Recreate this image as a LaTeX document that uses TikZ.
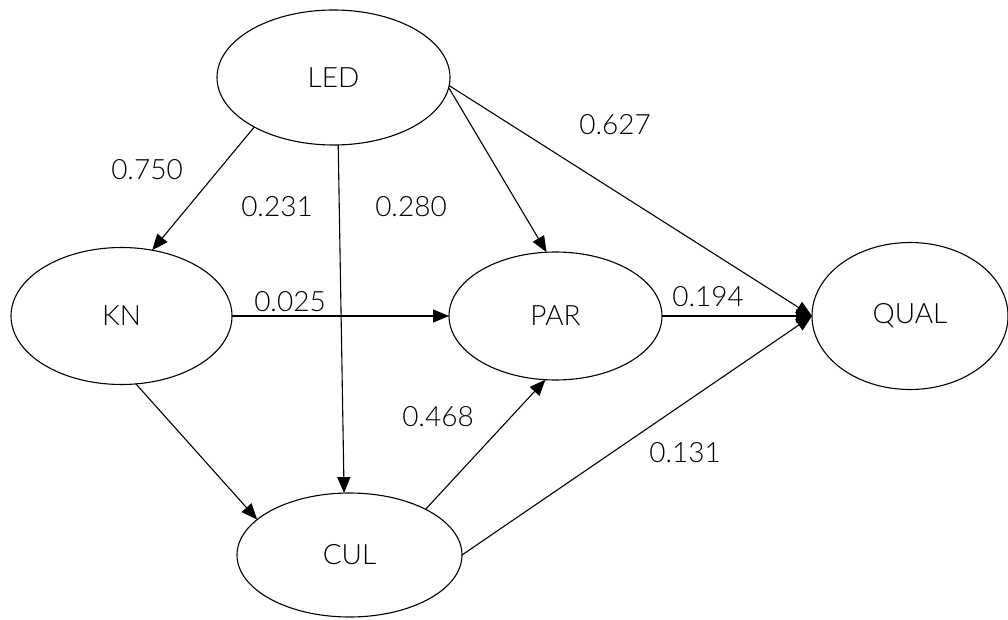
\documentclass[tikz,border=0pt]{standalone}
\usepackage{fontspec}
\setmainfont{Lato Light}
\usetikzlibrary{arrows.meta,shapes.geometric}

\begin{document}
\begin{tikzpicture}[x=1pt, y=-1pt, line width=1.1pt,
    every node/.style={font=\fontsize{28}{32}\selectfont},
    latent/.style={ellipse, draw, inner sep=0pt, outer sep=0pt},
    path/.style={-{Triangle[length=16pt,width=13pt]}},
    coef/.style={inner sep=0pt}]
    \useasboundingbox (0,0) rectangle (1008,620);

    % latent variables
    \node[latent, minimum width=233pt, minimum height=135pt] (LED)  at (333.5,77.5) {LED};
    \node[latent, minimum width=221pt, minimum height=137pt] (KN)   at (121.5,316)  {KN};
    \node[latent, minimum width=213pt, minimum height=128pt] (PAR)  at (555.5,316)  {PAR};
    \node[latent, minimum width=196pt, minimum height=147pt] (QUAL) at (910,316)    {QUAL};
    \node[latent, minimum width=225pt, minimum height=124pt] (CUL)  at (349.5,555)  {CUL};

    % structural paths
    \draw[path] (LED.212) -- (KN.65);
    \draw[path] (LED.274) -- (CUL.95);
    \draw[path] (LED.355) -- (PAR.98);
    \draw[path] (LED.356) -- (QUAL.west);
    \draw[path] (KN.east) -- (PAR.west);
    \draw[path] (KN.282) -- (CUL.159);
    \draw[path] (CUL.31) -- (PAR.261);
    \draw[path] (CUL.east) -- (QUAL.west);
    \draw[path] (PAR.east) -- (QUAL.west);

    % path coefficients
    \node[coef] (cLK) at (147,170) {0.750};
    \node[coef] (cLC) at (277,207) {0.231};
    \node[coef] (cLP) at (411,207) {0.280};
    \node[coef] (cLQ) at (615,125) {0.627};
    \node[coef] (cKP) at (290,302) {0.025};
    \node[coef] (cPQ) at (708,297) {0.194};
    \node[coef] (cCP) at (438,417) {0.468};
    \node[coef] (cCQ) at (685,453) {0.131};
\end{tikzpicture}
\end{document}
